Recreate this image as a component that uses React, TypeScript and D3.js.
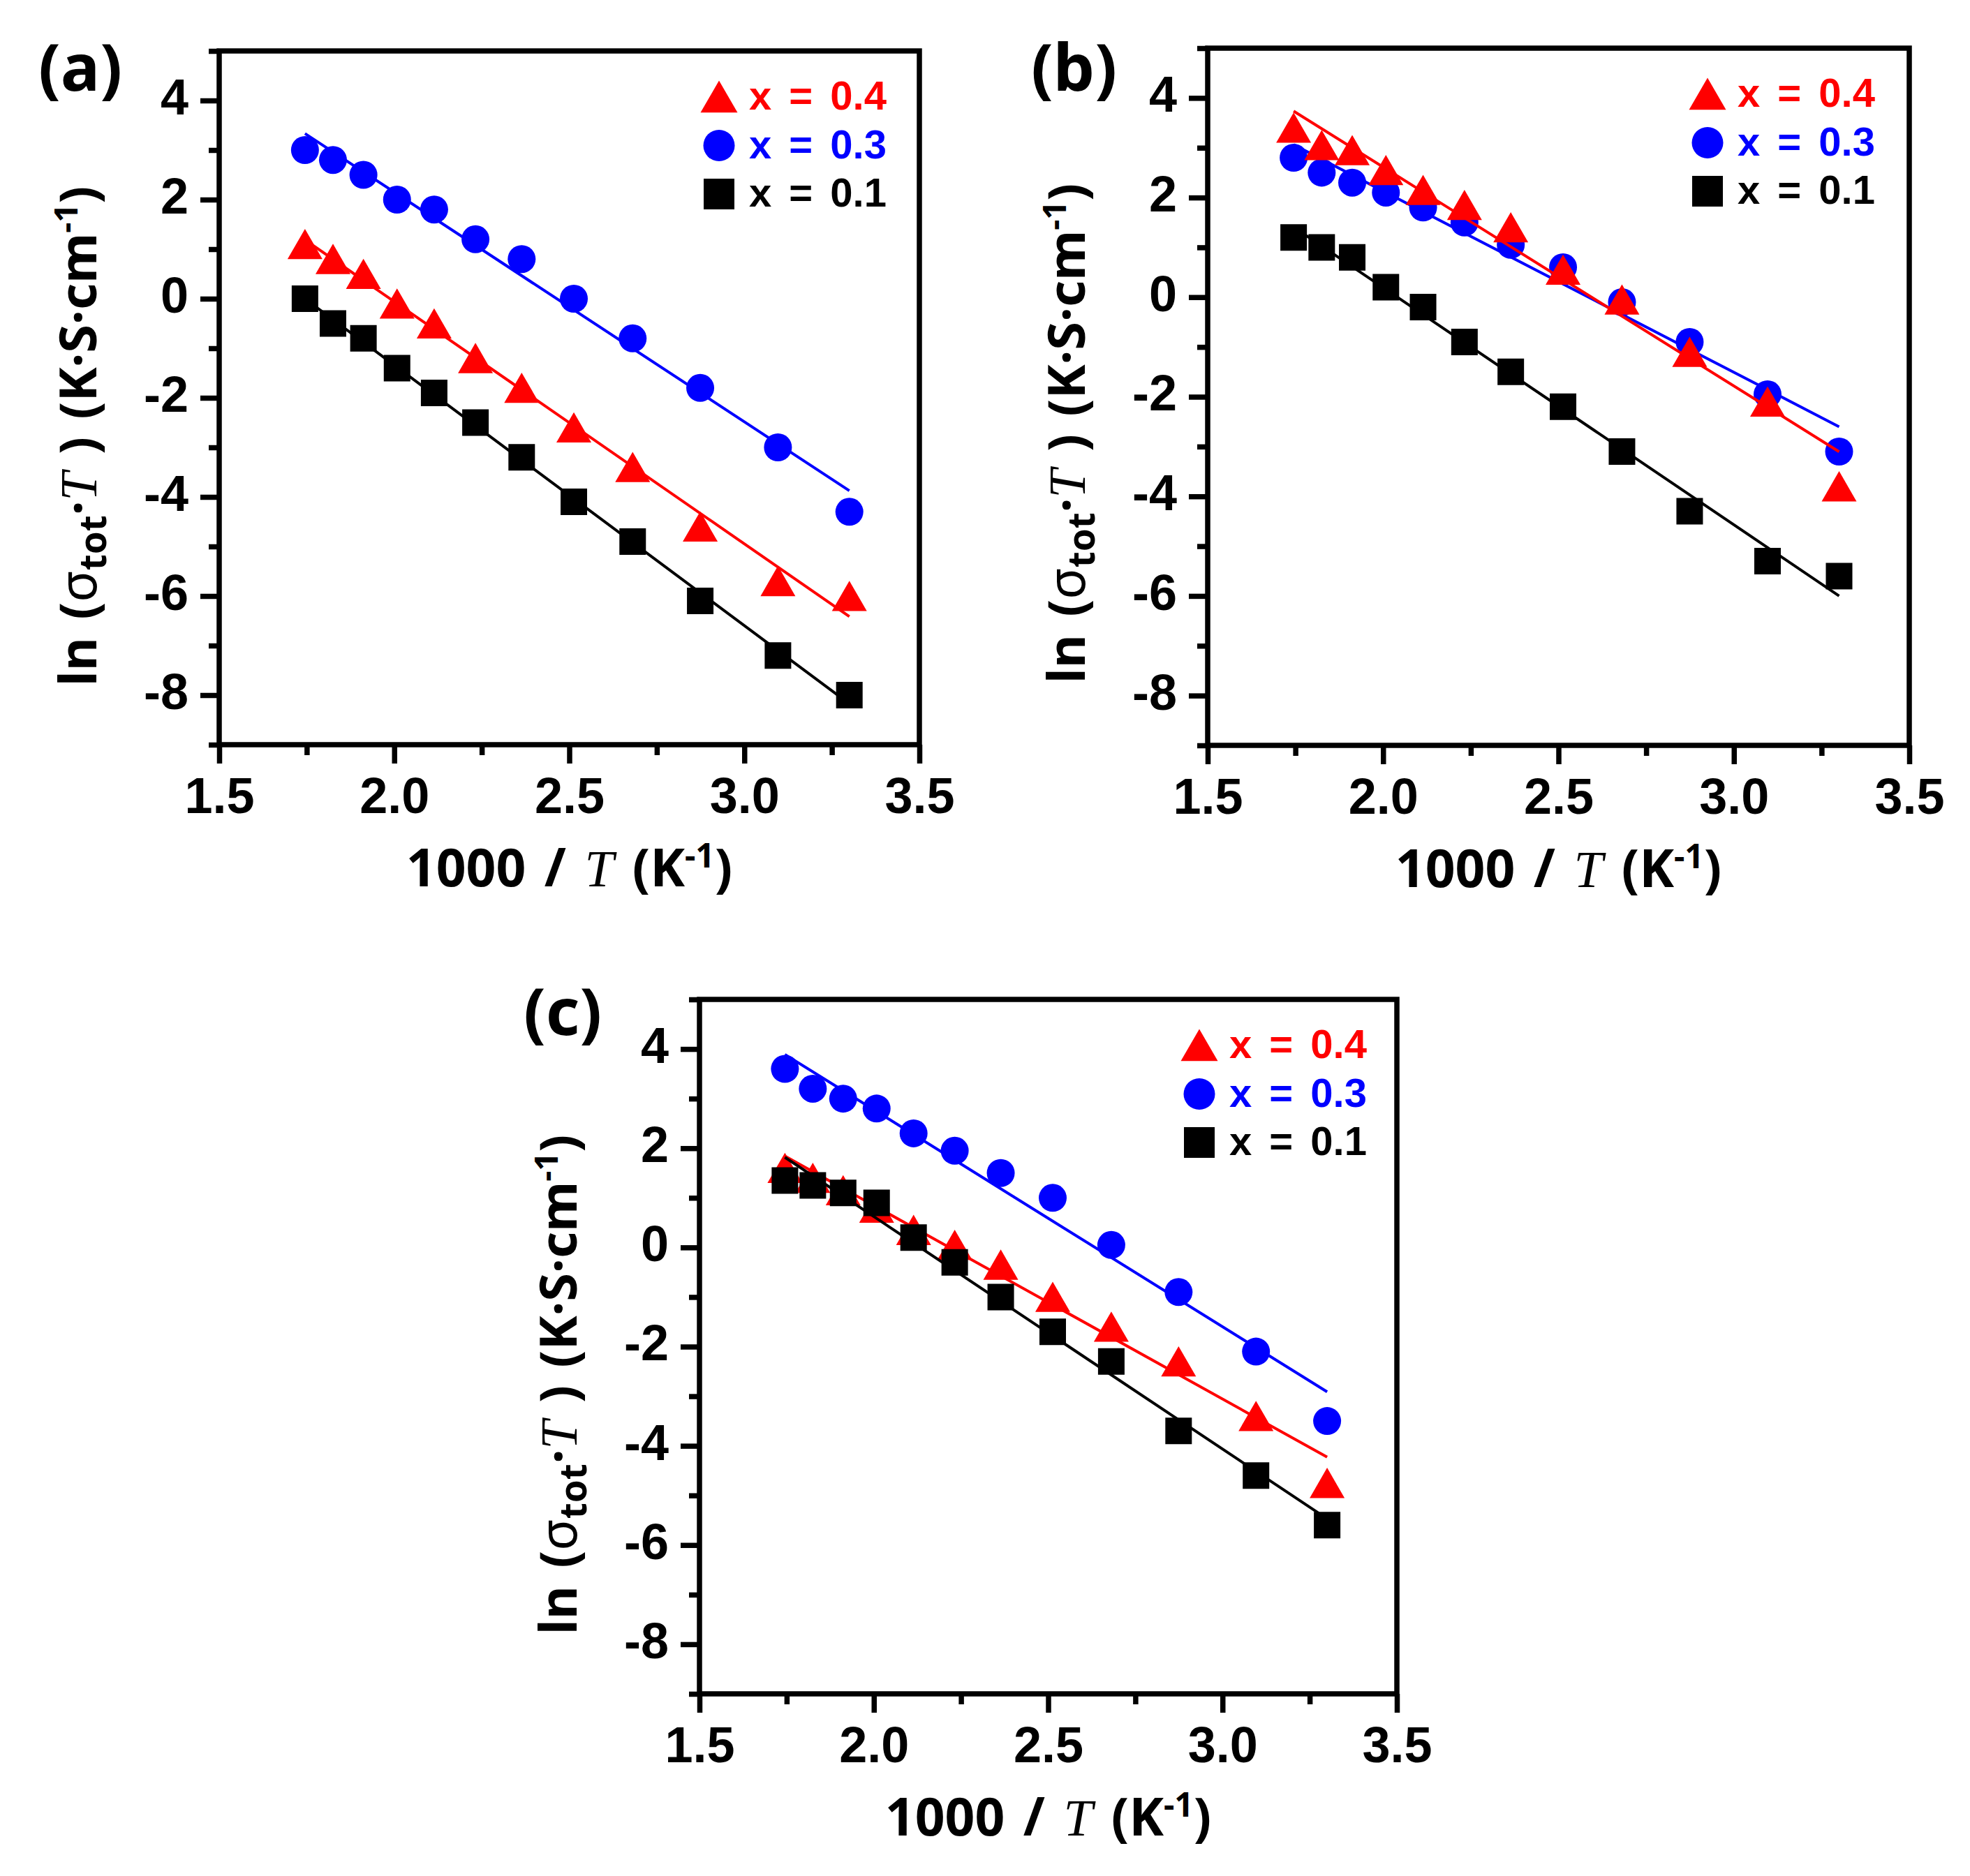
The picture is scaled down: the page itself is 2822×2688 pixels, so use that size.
import { useEffect, useRef } from "react"
import * as d3 from "d3"

// 1000/T for the twelve measuring temperatures (same for every panel)
const invT = [1.745, 1.825, 1.912, 2.008, 2.114, 2.232, 2.364, 2.513, 2.681, 2.874, 3.096, 3.3]

// panel (a)
const aX04 = [1.1, 0.8, 0.5, -0.1, -0.5, -1.2, -1.8, -2.6, -3.4, -4.6, -5.7, -6.0]
const aX03 = [3.0, 2.8, 2.5, 2.0, 1.8, 1.2, 0.8, 0.0, -0.8, -1.8, -3.0, -4.3]
const aX01 = [0.0, -0.5, -0.8, -1.4, -1.9, -2.5, -3.2, -4.1, -4.9, -6.1, -7.2, -8.0]

// panel (b)
const bX04 = [3.4, 3.05, 2.95, 2.55, 2.15, 1.85, 1.4, 0.55, -0.05, -1.1, -2.1, -3.8]
const bX03 = [2.8, 2.5, 2.3, 2.1, 1.8, 1.5, 1.05, 0.6, -0.1, -0.9, -1.95, -3.1]
const bX01 = [1.2, 1.0, 0.8, 0.2, -0.2, -0.9, -1.5, -2.2, -3.1, -4.3, -5.3, -5.6]

// panel (c)
const cX04 = [1.6, 1.4, 1.15, 0.8, 0.35, 0.05, -0.35, -1.0, -1.6, -2.3, -3.4, -4.75]
const cX03 = [3.6, 3.2, 3.0, 2.8, 2.3, 1.95, 1.5, 1.0, 0.05, -0.9, -2.1, -3.5]
const cX01 = [1.35, 1.25, 1.1, 0.9, 0.2, -0.3, -1.0, -1.7, -2.3, -3.7, -4.6, -5.6]

const legendLabels = ["x = 0.4", "x = 0.3", "x = 0.1"]
const xMajor = [1.5, 2.0, 2.5, 3.0, 3.5]
const xMinor = [1.75, 2.25, 2.75, 3.25]
const yMajor = [-8, -6, -4, -2, 0, 2, 4]
const yMinor = [-9, -7, -5, -3, -1, 1, 3, 5]

const RED = "#ff0000"
const BLUE = "#0000ff"
const BLACK = "#000000"
const SANS = "'Noto Sans', 'Liberation Sans', sans-serif"
const TICKFONT = "'Liberation Sans', Arial, sans-serif"
const SERIF = "'Liberation Serif', 'Times New Roman', serif"

const panels = [
  { tag: "(a)", left: 314, top: 73, width: 1003, height: 994, tagX: 55, tagY: 130, x04: aX04, x03: aX03, x01: aX01 },
  { tag: "(b)", left: 1730, top: 69, width: 1005, height: 999, tagX: 1477, tagY: 130, x04: bX04, x03: bX03, x01: bX01 },
  { tag: "(c)", left: 1002, top: 1432, width: 999, height: 995, tagX: 750, tagY: 1483, x04: cX04, x03: cX03, x01: cX01 },
]

// least-squares line, returned as its two end points
function fitLine(xs: number[], ys: number[]) {
  const mx = d3.mean(xs) as number
  const my = d3.mean(ys) as number
  let sxy = 0
  let sxx = 0
  xs.forEach((v, i) => {
    sxy += (v - mx) * (ys[i] - my)
    sxx += (v - mx) * (v - mx)
  })
  const b = sxy / sxx
  const x0 = xs[0]
  const x1 = xs[xs.length - 1]
  return [
    [x0, my + b * (x0 - mx)],
    [x1, my + b * (x1 - mx)],
  ]
}

export default function App() {
  const svgRef = useRef<SVGSVGElement>(null)

  useEffect(() => {
    if (!svgRef.current) return
    const svg = d3.select(svgRef.current)
    svg.selectAll("*").remove()

    panels.forEach((p) => {
      const g = svg.append("g")
      const x = d3.scaleLinear().domain([1.5, 3.5]).range([p.left, p.left + p.width])
      const y = d3.scaleLinear().domain([-9, 5]).range([p.top + p.height, p.top])
      const bottom = p.top + p.height

      // minor ticks
      g.append("g")
        .attr("transform", `translate(0,${bottom})`)
        .call(d3.axisBottom(x).tickValues(xMinor).tickSize(15).tickSizeOuter(0).tickFormat(() => ""))
      g.append("g")
        .attr("transform", `translate(${p.left},0)`)
        .call(d3.axisLeft(y).tickValues(yMinor).tickSize(15).tickSizeOuter(0).tickFormat(() => ""))

      // major ticks + labels
      g.append("g")
        .attr("transform", `translate(0,${bottom})`)
        .call(d3.axisBottom(x).tickValues(xMajor).tickSize(27).tickSizeOuter(0).tickPadding(20).tickFormat(d3.format(".1f")))
      g.append("g")
        .attr("class", "yaxis")
        .attr("transform", `translate(${p.left},0)`)
        .call(d3.axisLeft(y).tickValues(yMajor).tickSize(27).tickSizeOuter(0).tickPadding(17).tickFormat((d) => String(d)))

      g.selectAll(".domain").remove()
      g.selectAll(".tick line").attr("stroke", BLACK).attr("stroke-width", 7.5)
      g.selectAll(".tick text")
        .attr("fill", BLACK)
        .style("font-family", TICKFONT)
        .style("font-size", "72px")
        .style("font-weight", "700")
      g.selectAll(".yaxis .tick text").attr("dy", "0.27em")

      // frame
      g.append("rect")
        .attr("x", p.left)
        .attr("y", p.top)
        .attr("width", p.width)
        .attr("height", p.height)
        .attr("fill", "none")
        .attr("stroke", BLACK)
        .attr("stroke-width", 7.5)

      const series = [
        { ys: p.x03, color: BLUE, shape: d3.symbolCircle, size: Math.PI * 20 * 20, dy: 0 },
        { ys: p.x04, color: RED, shape: d3.symbolTriangle, size: (Math.sqrt(3) / 4) * 50 * 50, dy: 7 },
        { ys: p.x01, color: BLACK, shape: d3.symbolSquare, size: 38 * 38, dy: 0 },
      ]
      const line = d3
        .line<number[]>()
        .x((d) => x(d[0]))
        .y((d) => y(d[1]))

      series.forEach((s) => {
        g.append("g")
          .selectAll("path")
          .data(invT)
          .enter()
          .append("path")
          .attr("d", d3.symbol().type(s.shape).size(s.size)())
          .attr("transform", (d, i) => `translate(${x(d)},${y(s.ys[i]) + s.dy})`)
          .attr("fill", s.color)

        g.append("path")
          .datum(fitLine(invT, s.ys))
          .attr("d", line)
          .attr("fill", "none")
          .attr("stroke", s.color)
          .attr("stroke-width", 4)
      })

      // legend
      const legendSeries = [
        { color: RED, shape: d3.symbolTriangle, size: (Math.sqrt(3) / 4) * 53 * 53, dy: 7 },
        { color: BLUE, shape: d3.symbolCircle, size: Math.PI * 22.5 * 22.5, dy: 0 },
        { color: BLACK, shape: d3.symbolSquare, size: 44 * 44, dy: 0 },
      ]
      legendSeries.forEach((s, i) => {
        const cy = p.top + 66 + i * 69.5
        g.append("path")
          .attr("d", d3.symbol().type(s.shape).size(s.size)())
          .attr("transform", `translate(${p.left + 716},${cy + s.dy})`)
          .attr("fill", s.color)
        g.append("text")
          .attr("x", p.left + 759)
          .attr("y", cy + 18)
          .attr("fill", s.color)
          .attr("xml:space", "preserve")
          .style("font-family", TICKFONT)
          .style("font-size", "58px")
          .style("font-weight", "700")
          .style("word-spacing", "9px")
          .text(legendLabels[i])
      })

      // x axis title
      const xt = g
        .append("text")
        .attr("x", p.left + p.width / 2)
        .attr("y", bottom + 203)
        .attr("text-anchor", "middle")
        .attr("fill", BLACK)
        .style("font-family", SANS)
        .style("font-size", "75px")
        .style("font-weight", "700")
        .style("word-spacing", "7px")
      xt.append("tspan").text("1000 / ")
      xt.append("tspan").style("font-family", SERIF).style("font-style", "italic").style("font-weight", "400").text("T")
      xt.append("tspan").text(" (K")
      xt.append("tspan").attr("dy", -27).style("font-size", "48px").text("-1")
      xt.append("tspan").attr("dy", 27).text(")")

      // y axis title
      const yt = g
        .append("text")
        .attr("transform", `translate(${p.left - 176},${p.top + 552}) rotate(-90)`)
        .attr("text-anchor", "middle")
        .attr("fill", BLACK)
        .style("font-family", SANS)
        .style("font-size", "74px")
        .style("font-weight", "700")
        .style("word-spacing", "6px")
      yt.append("tspan").text("ln (")
      yt.append("tspan").style("font-weight", "400").text("σ")
      yt.append("tspan").attr("dy", 14).style("font-size", "53px").text("tot")
      yt.append("tspan").attr("dy", -14).text("·")
      yt.append("tspan").style("font-family", SERIF).style("font-style", "italic").style("font-weight", "400").text("T")
      yt.append("tspan").text(" ) (K·S·cm")
      yt.append("tspan").attr("dy", -27).style("font-size", "47px").text("-1")
      yt.append("tspan").attr("dy", 27).text(")")

      // panel tag
      g.append("text")
        .attr("x", p.tagX)
        .attr("y", p.tagY)
        .attr("fill", BLACK)
        .style("font-family", SANS)
        .style("font-size", "94px")
        .style("font-weight", "700")
        .text(p.tag)
    })
  }, [])

  return (
    <svg
      ref={svgRef}
      width={2822}
      height={2688}
      style={{ position: "absolute", left: 0, top: 0, background: "#ffffff" }}
    />
  )
}
